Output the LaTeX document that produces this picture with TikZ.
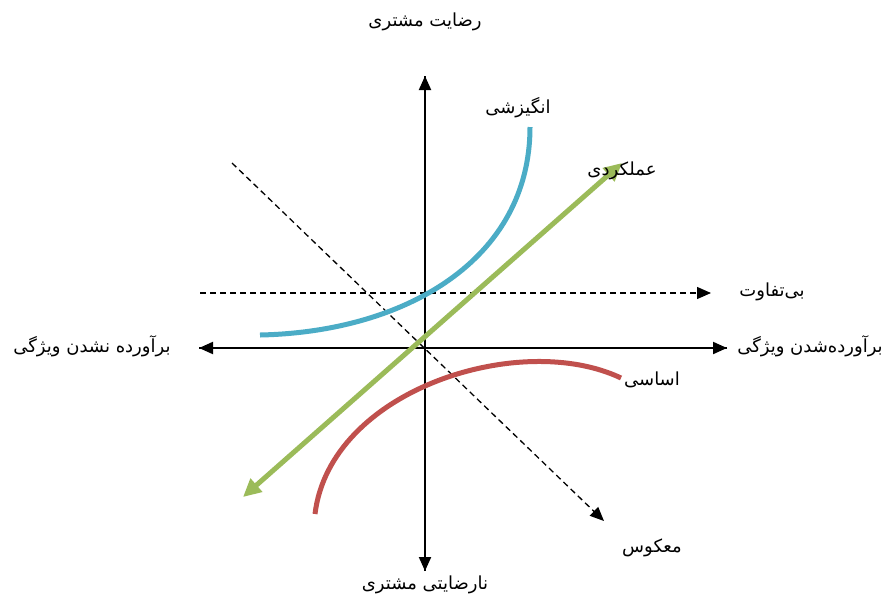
\documentclass[tikz,border=0pt]{standalone}
\usepackage{fontspec}
\newfontfamily\farsi[Script=Arabic]{DejaVu Sans}
\TeXXeTstate=1
\usetikzlibrary{arrows.meta}
\definecolor{kanoblue}{HTML}{4BACC6}
\definecolor{kanogreen}{HTML}{9BBB59}
\definecolor{kanored}{HTML}{C0504D}
\newcommand{\fa}[1]{{\farsi\beginR #1\endR}}
\tikzset{
  lbl/.style={font=\farsi\fontsize{18}{21}\selectfont, inner sep=1pt},
  axis/.style={line width=2pt, -{Triangle[length=14pt,width=12pt]}},
  guide/.style={line width=1.3pt, dashed, dash pattern=on 6pt off 4pt, -{Triangle[length=14pt,width=12pt]}},
  curve/.style={line width=5pt}
}
\begin{document}
\begin{tikzpicture}[x=1pt, y=-1pt]
    \useasboundingbox (0,0) rectangle (886,598);
    % axes
    \coordinate (ytop) at (425,76);
    \coordinate (ybot) at (425,571);
    \coordinate (xleft) at (199,348);
    \coordinate (xright) at (727,348);
    \draw[axis] (ybot) -- (ytop);
    \draw[axis] (ytop) -- (ybot);
    \draw[axis] (xright) -- (xleft);
    \draw[axis] (xleft) -- (xright);

    % indifferent and reverse
    \coordinate (indA) at (200,293);
    \coordinate (indB) at (711,293);
    \draw[guide] (indA) -- (indB);
    \coordinate (revA) at (232,163);
    \coordinate (revB) at (604,521);
    \draw[guide] (revA) -- (revB);

    % attractive
    \draw[curve, kanoblue] (260,335) .. controls (405,332) and (530,260) .. (530,127);
    % must-be
    \draw[curve, kanored] (315,514) .. controls (330,390) and (520,330) .. (621,378);
    % performance
    \coordinate (perfA) at (243,497);
    \coordinate (perfB) at (622,163);
    \draw[curve, kanogreen, {Triangle[length=18pt,width=17pt]}-{Triangle[length=18pt,width=17pt]}] (perfA) -- (perfB);

    % labels
    \node[lbl] (sat) at (425,22) {\fa{رضایت مشتری}};
    \node[lbl] (dissat) at (425,585) {\fa{نارضایتی مشتری}};
    \node[lbl] (notmet) at (92,346) {\fa{برآورده نشدن ویژگی}};
    \node[lbl] (met) at (810,346) {\fa{برآورده‌شدن ویژگی}};
    \node[lbl] (indiff) at (772,292) {\fa{بی‌تفاوت}};
    \node[lbl] (attr) at (518,108) {\fa{انگیزشی}};
    \node[lbl] (perf) at (622,171) {\fa{عملکردی}};
    \node[lbl] (must) at (652,380) {\fa{اساسی}};
    \node[lbl] (rev) at (652,548) {\fa{معکوس}};
\end{tikzpicture}
\end{document}
